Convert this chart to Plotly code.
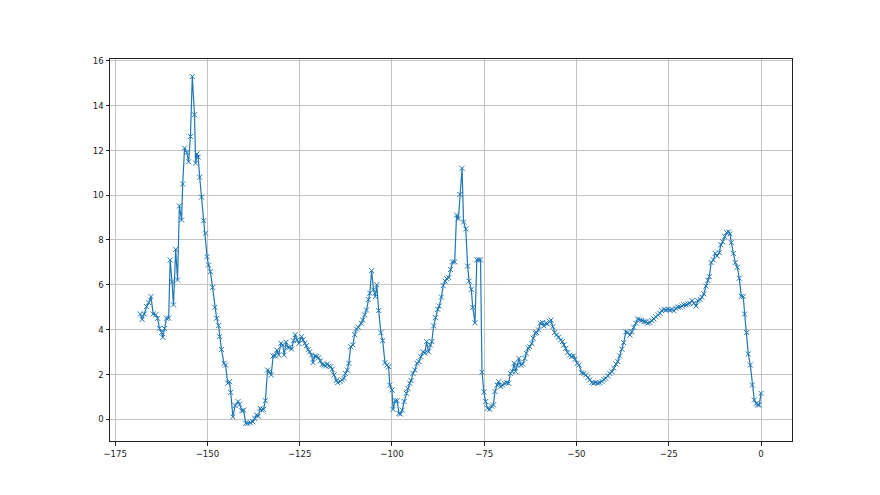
import plotly.graph_objects as go

x_vals = [
    -168.2, -167.7, -167.1, -166.5, -165.9, -165.3, -164.7, -164.0, -163.5, -163.0,
    -162.4, -162.1, -161.6, -161.1, -160.5, -160.1, -159.6, -159.2, -158.6, -158.1,
    -157.6, -157.0, -156.7, -156.2, -155.6, -155.1, -154.6, -154.1, -153.5, -153.2,
    -152.8, -152.5, -152.1, -151.6, -151.0, -150.5, -150.1, -149.7, -149.2, -148.6,
    -148.0, -147.5, -147.0, -146.7, -146.2, -145.5, -145.1, -144.5, -144.0, -143.7,
    -143.1, -142.5, -141.7, -141.3, -140.7, -140.2, -139.6, -139.1,
    -138.4, -137.7, -137.2, -136.7, -136.2, -135.7, -135.3, -134.8, -134.3, -133.7,
    -133.2, -132.7, -132.2, -131.7, -131.2, -130.7, -130.1, -129.6, -129.2, -128.7,
    -128.2, -127.8, -127.2, -126.7, -126.2, -125.7, -125.2, -124.5, -124.1, -123.6,
    -123.2, -122.7, -122.3, -121.8, -121.4, -120.9, -120.4, -119.9, -119.4, -118.9,
    -118.4, -118.0, -117.5, -117.1, -116.6, -116.2, -115.7, -115.1, -114.7, -114.0,
    -113.5, -113.0, -112.6, -112.1, -111.7, -111.2, -110.6, -110.1, -109.6, -109.1,
    -108.3, -107.9, -107.4, -106.9, -106.4, -106.0, -105.5, -105.0, -104.5, -104.1,
    -103.6, -103.0, -102.5, -101.9, -101.4, -100.9, -100.6, -100.0, -99.7, -99.1,
    -98.6, -98.1, -97.7, -97.2, -96.7, -96.1, -95.7, -95.2, -94.8, -94.3,
    -93.8, -93.2, -92.7, -92.2, -91.6, -91.1, -90.6, -90.1, -89.6, -89.2,
    -88.7, -88.2, -87.6, -87.2, -86.6, -86.1, -85.6, -85.2, -84.6, -84.1,
    -83.6, -83.0, -82.5, -82.0, -81.6, -81.0, -80.6, -80.0, -79.5, -79.1,
    -78.5, -78.1, -77.5, -77.0, -76.5, -76.0, -75.6, -75.1, -74.6, -74.1,
    -73.5, -73.0, -72.5, -72.1, -71.5, -71.1, -70.5, -70.0, -69.5, -68.9,
    -68.4, -67.9, -67.4, -66.9, -66.5, -66.0, -65.6, -65.1, -64.6, -64.0,
    -63.6, -63.1, -62.7, -62.1, -61.7, -61.2, -60.8, -60.3, -59.8, -59.2,
    -58.8, -58.3, -57.9, -57.3, -56.9, -56.4, -55.9, -55.4, -54.9, -54.3,
    -53.8, -53.4, -52.9, -52.4, -51.8, -51.4, -50.8, -50.4, -49.8, -49.3,
    -48.6, -48.0, -47.5, -46.9, -46.4, -45.8, -45.3, -44.8, -44.2, -43.7,
    -43.1, -42.6, -42.1, -41.5, -41.0, -40.4, -39.9, -39.3, -38.8, -38.3,
    -37.7, -37.2, -36.6, -36.1, -35.5, -35.0, -34.5, -33.9, -33.4, -32.8,
    -32.3, -31.7, -31.2, -30.7, -30.1, -29.6, -29.0, -28.5, -27.9, -27.4,
    -26.9, -26.3, -25.8, -25.2, -24.7, -24.1, -23.6, -23.1, -22.5, -22.0,
    -21.4, -20.9, -20.3, -19.8, -19.3,
    -18.7, -18.2, -17.6, -17.1, -16.5, -16.0, -15.5, -14.9, -14.4, -14.0,
    -13.5, -12.9, -12.4, -11.9, -11.3, -10.9, -10.4, -9.85, -9.3, -8.76,
    -8.4, -8.05, -7.5, -6.97, -6.43, -5.89, -5.34, -4.8, -4.43, -3.89,
    -3.44, -2.9, -2.36, -1.81, -1.27, -0.9, -0.46, 0.0,
]

y_vals = [
    4.69, 4.45, 4.69, 5.02, 5.2, 5.47, 4.69, 4.66, 4.5, 4.05,
    3.86, 3.65, 4.04, 4.5, 4.51, 7.1, 6.14, 5.1, 7.58, 6.21,
    9.52, 8.89, 10.5, 12.1, 11.9, 11.49, 12.62, 15.3, 13.59, 11.43,
    11.84, 11.7, 10.8, 9.91, 8.86, 8.3, 7.25, 6.88, 6.58, 5.88,
    4.99, 4.5, 4.17, 3.68, 3.11, 2.49, 2.41, 1.6, 1.67, 1.19,
    0.1, 0.6, 0.78, 0.66, 0.37, 0.4, -0.19, -0.19,
    -0.16, -0.12, 0.03, 0.18, 0.13, 0.48, 0.4, 0.43, 0.82, 2.19,
    2.12, 1.97, 2.82, 2.83, 3.08, 2.86, 3.38, 3.31, 2.86, 3.43,
    3.2, 3.2, 3.13, 3.5, 3.77, 3.54, 3.38, 3.68, 3.54, 3.38,
    3.28, 3.1, 3.0, 2.86, 2.52, 2.82, 2.79, 2.74, 2.6, 2.44,
    2.41, 2.37, 2.46, 2.37, 2.34, 2.22, 1.97, 1.72, 1.63, 1.68,
    1.75, 1.82, 2.04, 2.19, 2.49, 3.23, 3.31, 3.77, 4.02, 4.1,
    4.28, 4.42, 4.65, 4.87, 5.34, 5.62, 6.63, 5.77, 5.47, 6.0,
    4.85, 3.86, 3.5, 2.52, 2.41, 2.34, 1.52, 1.3, 0.43, 0.82,
    0.82, 0.25, 0.22, 0.4, 0.78, 1.15, 1.37, 1.6, 1.72, 2.04,
    2.19, 2.49, 2.57, 2.79, 3.0, 2.94, 3.46, 3.0, 3.31, 3.46,
    4.16, 4.53, 4.9, 5.05, 5.45, 5.96, 6.16, 6.27, 6.32, 6.68,
    7.02, 7.02, 9.11, 8.94, 10.03, 11.2, 8.8, 8.49, 6.83, 6.16,
    5.79, 4.99, 4.3, 7.11, 7.11, 7.11, 2.09, 1.21, 0.78, 0.48,
    0.43, 0.58, 0.63, 1.23, 1.52, 1.67, 1.45, 1.52, 1.6, 1.63,
    1.6, 2.04, 2.12, 2.49, 2.12, 2.41, 2.71, 2.41, 2.46, 2.71,
    2.94, 3.16, 3.23, 3.38, 3.61, 3.83, 3.86, 3.98, 4.28, 4.31,
    4.16, 4.28, 4.25, 4.36, 4.42, 4.13, 3.86, 3.76, 3.65, 3.53,
    3.46, 3.31, 3.16, 2.97, 2.86, 2.79, 2.82, 2.67, 2.49, 2.41,
    2.07, 2.04, 1.97, 1.86, 1.75, 1.63, 1.6, 1.63, 1.6, 1.63,
    1.68, 1.77, 1.82, 1.92, 2.04, 2.12, 2.27, 2.46, 2.57, 2.82,
    3.12, 3.41, 3.9, 3.86, 3.75, 3.9, 4.1, 4.28, 4.47, 4.43,
    4.4, 4.35, 4.35, 4.28, 4.31, 4.4, 4.47, 4.57, 4.65, 4.72,
    4.84, 4.9, 4.87, 4.9, 4.87, 4.9, 4.84, 4.95, 5.0, 5.0,
    5.05, 5.1, 5.1, 5.14, 5.17,
    5.29, 5.17, 5.05, 5.29, 5.34, 5.44, 5.59, 5.94, 6.19, 6.36,
    6.99, 7.11, 7.4, 7.29, 7.43, 7.78, 7.92, 8.15, 8.33, 8.36,
    8.27, 7.88, 7.4, 6.99, 6.78, 6.29, 5.48, 5.47, 4.69, 3.86,
    2.91, 2.41, 1.52, 0.85, 0.7, 0.63, 0.63, 1.15,
]

x_ticks = [-175, -150, -125, -100, -75, -50, -25, 0]
y_ticks = [0, 2, 4, 6, 8, 10, 12, 14, 16]

fig = go.Figure()
fig.add_trace(go.Scatter(
    x=x_vals, y=y_vals, mode="lines+markers",
    line=dict(color="#1f77b4", width=1.2),
    marker=dict(symbol="x-thin", size=5, color="#1f77b4",
                line=dict(color="#1f77b4", width=1)),
    showlegend=False,
))

axis_common = dict(
    showgrid=True, gridcolor="#c4c4c4", gridwidth=1,
    showline=True, linecolor="#222222", linewidth=1, mirror=True,
    ticks="outside", ticklen=3.5, tickcolor="#222222", tickwidth=1,
    zeroline=False,
    tickfont=dict(family="Liberation Sans Narrow, DejaVu Sans Condensed, DejaVu Sans",
                  size=9.5, color="#222222"),
)

fig.update_xaxes(range=[-176.4, 8.4], tickvals=x_ticks,
                 ticktext=[str(v).replace("-", "\u2212") for v in x_ticks], **axis_common)
fig.update_yaxes(range=[-0.98, 16.08], tickvals=y_ticks,
                 ticktext=[str(v) for v in y_ticks], **axis_common)

fig.update_layout(
    width=872, height=487,
    margin=dict(l=102, r=88, t=51, b=54),
    paper_bgcolor="white", plot_bgcolor="white",
    font=dict(family="DejaVu Sans"),
)

fig.write_html("out.html")
